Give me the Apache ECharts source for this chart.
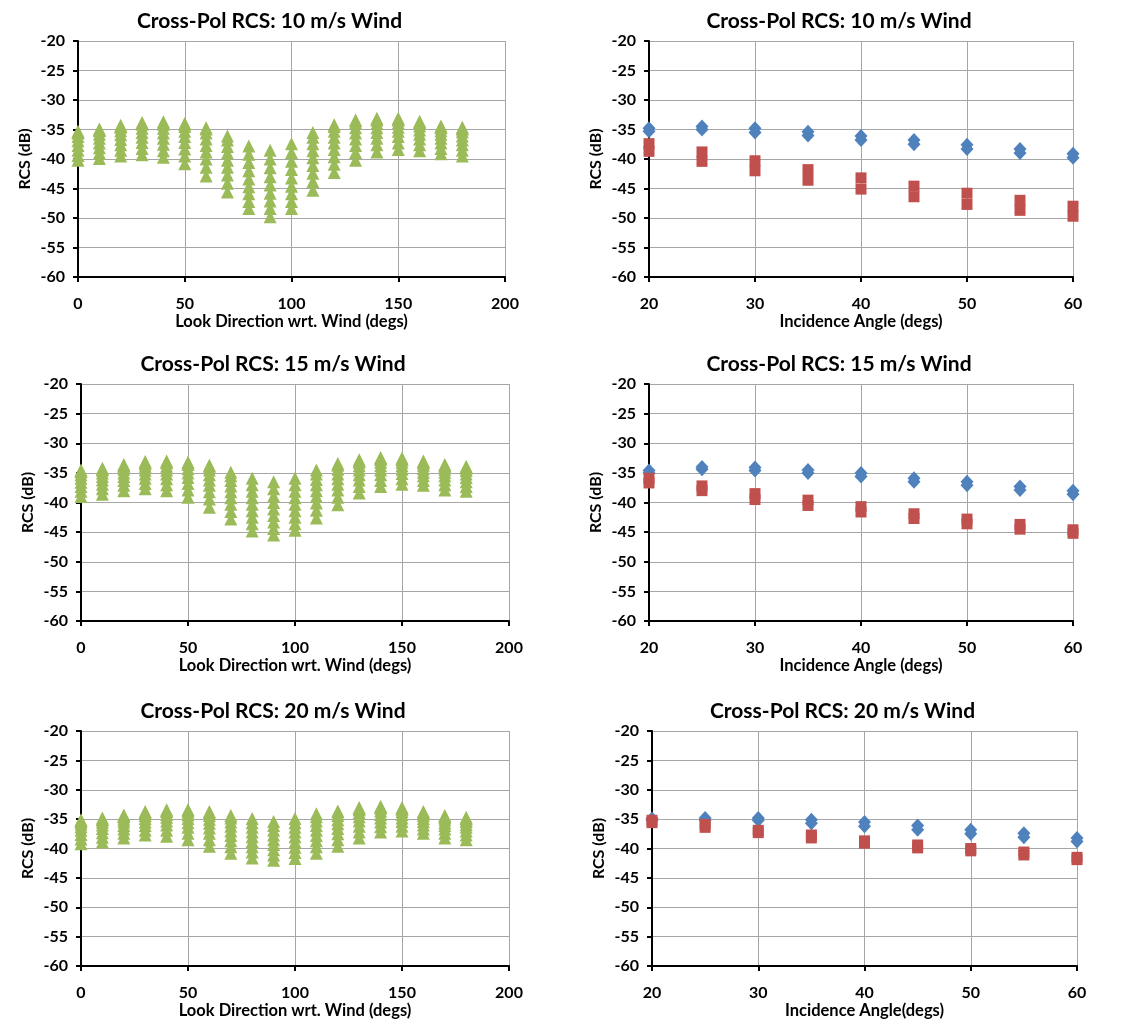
<!DOCTYPE html>
<html>
<head>
<meta charset="utf-8">
<script src="https://cdn.jsdelivr.net/npm/echarts@6/dist/echarts.min.js"></script>
<style>
  html, body { margin: 0; padding: 0; background: #fff; }
  #main { width: 1134px; height: 1020px; }
</style>
</head>
<body>
<div id="main"></div>
<script>
// look directions (left column charts)
var lookDirs = [0, 10, 20, 30, 40, 50, 60, 70, 80, 90, 100, 110, 120, 130, 140, 150, 160, 170, 180];
// incidence angles (right column charts)
var incAngles = [20, 25, 30, 35, 40, 45, 50, 55, 60];

// RCS (dB) per look direction, one value per incidence angle 20..60
var rcs10 = [
  [-35.5, -35.3, -35.6, -36.2, -36.9, -37.7, -38.5, -39.4, -40.2],
  [-35.1, -34.9, -35.2, -35.8, -36.5, -37.3, -38.1, -39.0, -39.9],
  [-34.5, -34.3, -34.6, -35.2, -35.9, -36.7, -37.6, -38.5, -39.5],
  [-34.0, -33.8, -34.1, -34.8, -35.5, -36.3, -37.2, -38.2, -39.3],
  [-33.9, -33.7, -34.1, -34.8, -35.6, -36.5, -37.5, -38.6, -39.7],
  [-34.1, -34.0, -34.5, -35.3, -36.2, -37.2, -38.3, -39.5, -40.8],
  [-34.7, -34.9, -35.6, -36.6, -37.7, -38.8, -40.0, -41.4, -42.9],
  [-36.1, -36.8, -37.9, -39.0, -40.2, -41.4, -42.7, -44.1, -45.6],
  [-37.8, -39.2, -40.6, -42.0, -43.4, -44.7, -45.9, -47.2, -48.4],
  [-38.5, -40.0, -41.5, -43.0, -44.4, -45.8, -47.1, -48.4, -49.8],
  [-37.4, -38.9, -40.4, -41.8, -43.2, -44.6, -45.9, -47.2, -48.4],
  [-35.5, -36.3, -37.4, -38.6, -39.8, -41.1, -42.4, -43.8, -45.3],
  [-34.2, -34.5, -35.3, -36.3, -37.3, -38.4, -39.6, -40.9, -42.3],
  [-33.5, -33.4, -33.9, -34.7, -35.6, -36.6, -37.7, -38.9, -40.2],
  [-33.3, -33.1, -33.4, -34.0, -34.7, -35.5, -36.5, -37.6, -38.8],
  [-33.3, -33.1, -33.4, -33.9, -34.6, -35.3, -36.2, -37.3, -38.4],
  [-33.8, -33.6, -33.9, -34.4, -35.1, -35.8, -36.6, -37.6, -38.6],
  [-34.6, -34.4, -34.7, -35.2, -35.8, -36.5, -37.3, -38.2, -39.1],
  [-34.8, -34.6, -34.9, -35.4, -36.1, -36.8, -37.6, -38.5, -39.5]
];
var rcs15 = [
  [-34.7, -34.5, -34.8, -35.3, -35.9, -36.6, -37.3, -38.1, -39.0],
  [-34.4, -34.2, -34.5, -35.0, -35.6, -36.2, -36.9, -37.7, -38.6],
  [-33.8, -33.6, -33.9, -34.4, -35.0, -35.6, -36.3, -37.1, -38.0],
  [-33.3, -33.1, -33.4, -33.9, -34.5, -35.2, -35.9, -36.8, -37.7],
  [-33.2, -33.0, -33.3, -33.9, -34.5, -35.2, -36.0, -37.0, -38.0],
  [-33.3, -33.2, -33.6, -34.3, -35.0, -35.8, -36.8, -37.9, -39.1],
  [-33.7, -33.9, -34.5, -35.3, -36.2, -37.1, -38.2, -39.4, -40.8],
  [-34.9, -35.5, -36.3, -37.2, -38.2, -39.2, -40.3, -41.5, -42.8],
  [-35.9, -37.0, -38.1, -39.2, -40.3, -41.4, -42.5, -43.6, -44.8],
  [-36.5, -37.7, -38.9, -40.0, -41.1, -42.2, -43.3, -44.4, -45.5],
  [-35.9, -37.0, -38.1, -39.2, -40.3, -41.4, -42.5, -43.6, -44.7],
  [-34.5, -35.2, -36.1, -37.0, -38.0, -39.0, -40.1, -41.3, -42.6],
  [-33.4, -33.7, -34.4, -35.2, -36.0, -36.9, -37.9, -39.1, -40.4],
  [-33.0, -32.8, -33.2, -33.8, -34.5, -35.3, -36.2, -37.3, -38.4],
  [-32.6, -32.4, -32.7, -33.2, -33.8, -34.5, -35.3, -36.3, -37.3],
  [-32.7, -32.5, -32.8, -33.2, -33.8, -34.4, -35.1, -36.0, -36.9],
  [-33.2, -33.0, -33.3, -33.7, -34.3, -34.9, -35.5, -36.3, -37.1],
  [-33.8, -33.6, -33.9, -34.4, -34.9, -35.5, -36.2, -37.0, -37.9],
  [-34.1, -33.9, -34.2, -34.6, -35.2, -35.8, -36.5, -37.3, -38.1]
];
var rcs20 = [
  [-35.3, -35.1, -35.4, -35.8, -36.3, -36.9, -37.6, -38.4, -39.2],
  [-35.0, -34.8, -35.1, -35.5, -36.0, -36.6, -37.3, -38.1, -38.9],
  [-34.5, -34.3, -34.6, -35.0, -35.5, -36.1, -36.7, -37.4, -38.2],
  [-33.9, -33.7, -34.0, -34.4, -34.9, -35.5, -36.1, -36.9, -37.7],
  [-33.6, -33.4, -33.7, -34.2, -34.7, -35.3, -36.0, -36.9, -37.9],
  [-33.5, -33.4, -33.8, -34.3, -34.9, -35.6, -36.4, -37.4, -38.5],
  [-33.7, -33.9, -34.4, -35.0, -35.7, -36.5, -37.4, -38.5, -39.6],
  [-34.4, -34.8, -35.5, -36.2, -37.0, -37.8, -38.7, -39.7, -40.8],
  [-34.9, -35.6, -36.4, -37.2, -38.0, -38.8, -39.7, -40.6, -41.6],
  [-35.4, -36.1, -36.9, -37.7, -38.5, -39.3, -40.2, -41.1, -42.0],
  [-34.9, -35.6, -36.4, -37.2, -38.0, -38.9, -39.8, -40.7, -41.7],
  [-34.1, -34.6, -35.3, -36.1, -36.9, -37.8, -38.7, -39.7, -40.8],
  [-33.6, -33.8, -34.4, -35.1, -35.8, -36.6, -37.5, -38.5, -39.6],
  [-33.2, -33.0, -33.4, -33.9, -34.6, -35.3, -36.2, -37.2, -38.2],
  [-33.0, -32.8, -33.1, -33.6, -34.2, -34.8, -35.5, -36.3, -37.2],
  [-33.2, -33.0, -33.3, -33.7, -34.2, -34.8, -35.4, -36.2, -37.0],
  [-33.9, -33.7, -34.0, -34.4, -34.9, -35.4, -36.0, -36.7, -37.4],
  [-34.6, -34.4, -34.7, -35.1, -35.6, -36.1, -36.7, -37.4, -38.2],
  [-34.9, -34.7, -35.0, -35.4, -35.9, -36.4, -37.0, -37.7, -38.5]
];

// right column: diamonds (upwind, two looks) and squares (crosswind, two looks)
var diamA10 = [-34.8, -34.5, -34.8, -35.4, -36.1, -36.8, -37.6, -38.3, -39.1];
var diamB10 = [-35.3, -35.0, -35.5, -36.0, -36.8, -37.5, -38.3, -39.0, -39.8];
var sqA10 = [-37.4, -38.8, -40.3, -41.8, -43.2, -44.6, -45.8, -47.0, -48.0];
var sqB10 = [-38.7, -40.4, -42.0, -43.6, -45.1, -46.4, -47.7, -48.7, -49.7];

var diamA15 = [-34.6, -34.0, -34.1, -34.5, -35.0, -35.9, -36.5, -37.3, -38.0];
var diamB15 = [-35.0, -34.4, -34.6, -35.0, -35.6, -36.5, -37.1, -37.9, -38.6];
var sqA15 = [-35.9, -37.2, -38.5, -39.6, -40.7, -41.9, -42.8, -43.7, -44.6];
var sqB15 = [-36.7, -38.0, -39.5, -40.5, -41.6, -42.7, -43.6, -44.5, -45.2];

var diamA20 = [-34.9, -34.8, -34.8, -35.1, -35.5, -36.1, -36.8, -37.4, -38.2];
var diamB20 = [-35.2, -35.2, -35.2, -35.7, -36.2, -36.8, -37.5, -38.1, -38.8];
var sqA20 = [-35.2, -35.9, -36.9, -37.7, -38.7, -39.4, -40.0, -40.6, -41.5];
var sqB20 = [-35.6, -36.4, -37.3, -38.2, -39.1, -39.9, -40.4, -41.1, -41.9];

var titles = ['Cross-Pol RCS: 10 m/s Wind', 'Cross-Pol RCS: 15 m/s Wind', 'Cross-Pol RCS: 20 m/s Wind'];

var FONT = 'Lato, Carlito, "Liberation Sans", sans-serif';
var GREEN = '#9bbb59', BLUE = '#4f81bd', RED = '#c0504d';

function lookData(cols) {
  var out = [];
  lookDirs.forEach(function (d, i) {
    cols[i].forEach(function (v) { out.push([d, v]); });
  });
  return out;
}
function incData(a, b) {
  var out = [];
  incAngles.forEach(function (x, i) { out.push([x, a[i]]); out.push([x, b[i]]); });
  return out;
}

// plot areas [left, top, width, height]
var grids = [
  [78, 41, 427, 236], [649, 41, 424, 236],
  [81, 384, 428, 237], [649, 384, 424, 237],
  [81, 731, 428, 236], [652, 731, 425, 236]
];

var axisText = { color: '#000', fontFamily: FONT, fontWeight: 'bold', fontSize: 16 };

var option = {
  backgroundColor: '#fff',
  animation: false,
  title: [],
  grid: [],
  xAxis: [],
  yAxis: [],
  series: []
};

grids.forEach(function (g, k) {
  var row = Math.floor(k / 2), right = k % 2 === 1;
  option.grid.push({ left: g[0], top: g[1], width: g[2], height: g[3] });
  option.title.push({
    text: titles[row],
    left: g[0] + g[2] / 2 - 27, top: [6, 349, 696][row],
    textAlign: 'center',
    textStyle: { fontFamily: FONT, fontWeight: 'bold', fontSize: 21, color: '#000' }
  });
  option.xAxis.push({
    gridIndex: k, type: 'value',
    min: right ? 20 : 0, max: right ? 60 : 200, interval: right ? 10 : 50,
    name: right ? (row === 2 ? 'Incidence Angle(degs)' : 'Incidence Angle (degs)') : 'Look Direction wrt. Wind (degs)',
    nameLocation: 'middle', nameGap: 36,
    nameTextStyle: { color: '#000', fontFamily: FONT, fontWeight: 'bold', fontSize: 16.5 },
    axisLine: { onZero: false, lineStyle: { color: '#000', width: 2 } },
    axisTick: { show: true, length: 5, lineStyle: { color: '#000', width: 2 } },
    axisLabel: Object.assign({ margin: 19 }, axisText),
    splitLine: { show: true, lineStyle: { color: '#a6a6a6', width: 1 } }
  });
  option.yAxis.push({
    gridIndex: k, type: 'value', min: -60, max: -20, interval: 5,
    name: 'RCS (dB)', nameLocation: 'middle', nameGap: 45,
    nameTextStyle: { color: '#000', fontFamily: FONT, fontWeight: 'bold', fontSize: 16 },
    axisLine: { onZero: false, lineStyle: { color: '#000', width: 2 } },
    axisTick: { show: true, length: 5, lineStyle: { color: '#000', width: 2 } },
    axisLabel: Object.assign({ margin: 13 }, axisText),
    splitLine: { show: true, lineStyle: { color: '#a6a6a6', width: 1 } }
  });
});

var lookSets = [rcs10, rcs15, rcs20];
var diamSets = [[diamA10, diamB10], [diamA15, diamB15], [diamA20, diamB20]];
var sqSets = [[sqA10, sqB10], [sqA15, sqB15], [sqA20, sqB20]];

for (var r = 0; r < 3; r++) {
  option.series.push({
    type: 'scatter', xAxisIndex: 2 * r, yAxisIndex: 2 * r,
    symbol: 'triangle', symbolSize: [13, 13],
    itemStyle: { color: GREEN, opacity: 1 },
    data: lookData(lookSets[r])
  });
  option.series.push({
    type: 'scatter', xAxisIndex: 2 * r + 1, yAxisIndex: 2 * r + 1,
    symbol: 'diamond', symbolSize: [13, 14],
    itemStyle: { color: BLUE, opacity: 1 },
    data: incData(diamSets[r][0], diamSets[r][1])
  });
  option.series.push({
    type: 'scatter', xAxisIndex: 2 * r + 1, yAxisIndex: 2 * r + 1,
    symbol: 'rect', symbolSize: [11, 11],
    itemStyle: { color: RED, opacity: 1 },
    data: incData(sqSets[r][0], sqSets[r][1])
  });
}

var chart = echarts.init(document.getElementById('main'), null, { renderer: 'canvas' });
chart.setOption(option);
</script>
</body>
</html>
